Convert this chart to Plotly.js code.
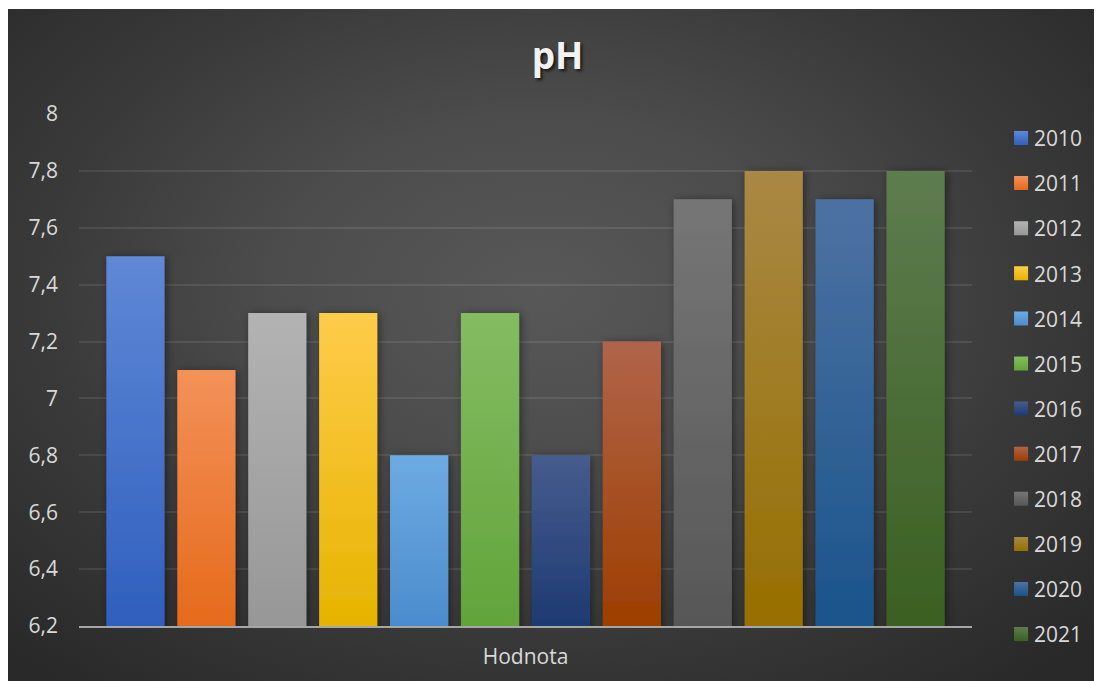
<!DOCTYPE html>
<html>
<head>
<meta charset="utf-8">
<script src="https://cdn.plot.ly/plotly-3.0.1.min.js"></script>
<style>
  html, body { margin: 0; padding: 0; background: #ffffff; width: 1097px; height: 681px; overflow: hidden; }
  #frame {
    position: absolute; left: 8px; top: 9px; width: 1086px; height: 672px;
    background: radial-gradient(ellipse 70% 75% at 49% 42%, #585858 0%, #4c4c4c 35%, #3a3a3a 65%, #292929 100%);
  }
  #chart { width: 1086px; height: 672px; }
</style>
</head>
<body>
<div id="frame"><div id="chart"></div></div>
<svg width="0" height="0" style="position:absolute">
  <defs id="extdefs"></defs>
</svg>
<script>
// ---- data ----
const category = ['Hodnota'];
const years = ['2010','2011','2012','2013','2014','2015','2016','2017','2018','2019','2020','2021'];
const values = [7.5, 7.1, 7.3, 7.3, 6.8, 7.3, 6.8, 7.2, 7.7, 7.8, 7.7, 7.8];
const topColors    = ['#5f88d6','#f39159','#b3b3b3','#ffcc4a','#6eaae2','#84bc62','#465c8e','#b1644a','#767676','#a98845','#4d72a2','#5e7c4f'];
const bottomColors = ['#2f5fbe','#e66a1b','#979797','#e6b300','#4a8ccd','#62a43a','#1e3a72','#9d3e00','#575757','#966f00','#1a548b','#3a6022'];
const midColors    = ['#4472c4','#ed7d31','#a5a5a5','#ffc000','#5b9bd5','#70ad47','#2e4a80','#a65026','#666666','#9f7b22','#2f6296','#4a6e38'];

const traces = years.map((yr, i) => ({
  type: 'bar',
  name: yr,
  x: category,
  y: [values[i]],
  marker: { color: midColors[i], line: { width: 0 } },
  legendgroup: 'g' + i,
  hoverinfo: 'name+y'
}));

const FONT = '"Open Sans", "Liberation Sans", sans-serif';

const layout = {
  width: 1086, height: 672,
  margin: { l: 71, r: 122, t: 105, b: 55 },
  paper_bgcolor: 'rgba(0,0,0,0)',
  plot_bgcolor: 'rgba(0,0,0,0)',
  separators: ', ',
  barmode: 'group',
  bargap: 0.047,
  bargroupgap: 0.18,
  showlegend: true,
  title: {
    text: '<b>pH</b>',
    x: 0.506, xref: 'container', xanchor: 'center',
    y: 0.93, yref: 'container', yanchor: 'middle',
    font: { family: FONT, size: 37, color: '#f2f2f2', shadow: '2px 2px 3px rgba(0,0,0,0.7)' }
  },
  xaxis: {
    type: 'category',
    showgrid: false,
    showline: true, linecolor: '#a6a6a6', linewidth: 2,
    ticks: '', ticklabelstandoff: 11,
    tickfont: { family: FONT, size: 21, color: '#d9d9d9' },
    fixedrange: true
  },
  yaxis: {
    range: [6.2, 8], dtick: 0.2, tick0: 6.2,
    showgrid: true, gridcolor: 'rgba(255,255,255,0.09)', gridwidth: 2,
    zeroline: false, showline: false, ticks: '',
    ticklabelstandoff: 20,
    tickfont: { family: FONT, size: 21, color: '#d9d9d9' },
    fixedrange: true
  },
  legend: {
    xref: 'container', x: 0.908, xanchor: 'left',
    yref: 'container', y: 0.838, yanchor: 'top',
    traceorder: 'grouped', tracegroupgap: 14.8,
    maxheight: 660,
    font: { family: FONT, size: 21, color: '#d9d9d9' },
    bgcolor: 'rgba(0,0,0,0)', borderwidth: 0
  }
};

Plotly.newPlot('chart', traces, layout, { displayModeBar: false, staticPlot: true }).then(gd => {
  const svgNS = 'http://www.w3.org/2000/svg';
  const defs = document.getElementById('extdefs');
  const base = window.location.href.split('#')[0];
  const ref = id => 'url("' + base + '#' + id + '")';
  const plotH = gd._fullLayout.yaxis._length;

  const filt = document.createElementNS(svgNS, 'filter');
  filt.setAttribute('id', 'barshadow');
  filt.setAttribute('x', '-30%'); filt.setAttribute('y', '-10%');
  filt.setAttribute('width', '160%'); filt.setAttribute('height', '130%');
  const ds = document.createElementNS(svgNS, 'feDropShadow');
  ds.setAttribute('dx', '2'); ds.setAttribute('dy', '1');
  ds.setAttribute('stdDeviation', '4');
  ds.setAttribute('flood-color', '#000'); ds.setAttribute('flood-opacity', '0.45');
  filt.appendChild(ds);
  defs.appendChild(filt);

  function makeGrad(id, i, userSpace, y1, y2) {
    const g = document.createElementNS(svgNS, 'linearGradient');
    g.setAttribute('id', id);
    if (userSpace) {
      g.setAttribute('gradientUnits', 'userSpaceOnUse');
      g.setAttribute('x1', '0'); g.setAttribute('x2', '0');
      g.setAttribute('y1', String(y1)); g.setAttribute('y2', String(y2));
    } else {
      g.setAttribute('x1', '0%'); g.setAttribute('y1', '0%');
      g.setAttribute('x2', '0%'); g.setAttribute('y2', '100%');
    }
    const s1 = document.createElementNS(svgNS, 'stop');
    s1.setAttribute('offset', '0%'); s1.setAttribute('style', 'stop-color:' + topColors[i] + ';stop-opacity:1');
    const s2 = document.createElementNS(svgNS, 'stop');
    s2.setAttribute('offset', '100%'); s2.setAttribute('style', 'stop-color:' + bottomColors[i] + ';stop-opacity:1');
    g.appendChild(s1); g.appendChild(s2);
    defs.appendChild(g);
  }

  const barTraces = gd.querySelectorAll('.barlayer .trace');
  barTraces.forEach((t, i) => {
    t.querySelectorAll('path').forEach((p, k) => {
      const bb = p.getBBox();
      const id = 'bargrad' + i + '_' + k;
      makeGrad(id, i, true, bb.y, plotH);
      p.style.setProperty('fill', ref(id));
      p.setAttribute('filter', ref('barshadow'));
    });
  });
  const legendItems = gd.querySelectorAll('.legend .traces');
  legendItems.forEach((t, i) => {
    t.querySelectorAll('.legendpoints path').forEach(p => {
      const id = 'leggrad' + i;
      makeGrad(id, i, false);
      p.setAttribute('d', 'M14,7H0V-7H14Z');
      p.style.setProperty('fill', ref(id));
      p.style.stroke = 'none';
    });
  });
});
</script>
</body>
</html>
